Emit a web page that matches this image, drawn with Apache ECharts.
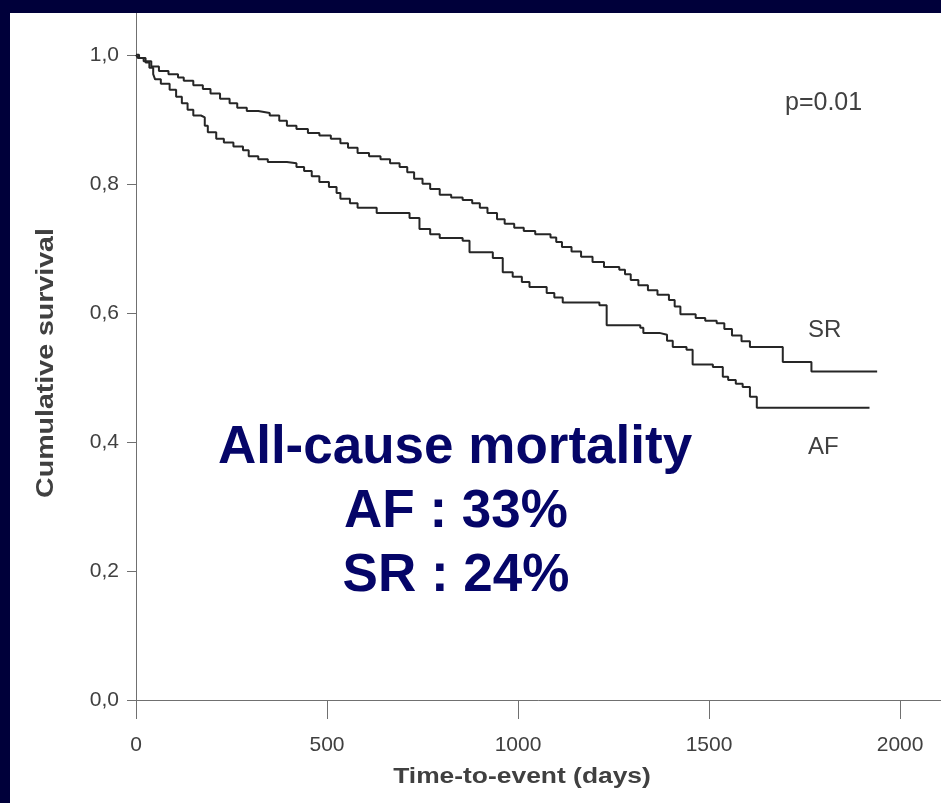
<!DOCTYPE html>
<html>
<head>
<meta charset="utf-8">
<title>Cumulative survival AF vs SR</title>
<script src="https://cdn.jsdelivr.net/npm/echarts@6/dist/echarts.min.js"></script>
<style>
    html, body { margin: 0; padding: 0; background: #fff; }
    #main { width: 941px; height: 803px; }
</style>
</head>
<body>
<div id="main"></div>
<script>
    // Kaplan-Meier steps: [days, survival]
    var srDays = [0, 5, 20, 40, 60, 85, 110, 125, 150, 175, 195, 220, 245, 265, 290, 320, 350, 375, 395, 420,
        450, 480, 510, 535, 555, 580, 610, 640, 665, 690, 710, 728, 750, 770, 795, 825, 855, 880, 900, 920,
        945, 965, 990, 1015, 1045, 1085, 1100, 1115, 1140, 1165, 1195, 1225, 1265, 1280, 1295, 1315, 1340,
        1365, 1395, 1410, 1425, 1465, 1490, 1520, 1540, 1560, 1585, 1607, 1693, 1768, 1940];
    var srSurv = [1.0, 0.995, 0.99, 0.982, 0.975, 0.97, 0.965, 0.96, 0.953, 0.947, 0.94, 0.932, 0.925, 0.918,
        0.913, 0.91, 0.906, 0.898, 0.89, 0.885, 0.879, 0.875, 0.87, 0.863, 0.856, 0.848, 0.843, 0.838, 0.832,
        0.826, 0.818, 0.808, 0.8, 0.792, 0.783, 0.779, 0.775, 0.77, 0.763, 0.755, 0.745, 0.738, 0.732, 0.727,
        0.722, 0.717, 0.71, 0.702, 0.695, 0.687, 0.679, 0.671, 0.667, 0.66, 0.651, 0.643, 0.635, 0.628, 0.62,
        0.61, 0.598, 0.592, 0.588, 0.584, 0.575, 0.565, 0.556, 0.547, 0.524, 0.509, 0.509];

    var afDays = [0, 8, 25, 35, 45, 50, 65, 88, 105, 120, 135, 150, 170, 180, 188, 210, 230, 255, 280, 295,
        320, 345, 395, 420, 440, 460, 480, 505, 525, 535, 560, 580, 630, 716, 742, 770, 795, 855, 873, 934,
        960, 986, 1010, 1030, 1075, 1095, 1117, 1213, 1232, 1320, 1328, 1370, 1390, 1405, 1441, 1457, 1510,
        1536, 1550, 1570, 1588, 1607, 1625, 1920];
    var afSurv = [1.0, 0.995, 0.988, 0.98, 0.97, 0.962, 0.955, 0.946, 0.935, 0.925, 0.915, 0.906, 0.903, 0.89,
        0.88, 0.87, 0.864, 0.858, 0.852, 0.843, 0.838, 0.834, 0.832, 0.826, 0.82, 0.812, 0.803, 0.795, 0.786,
        0.777, 0.77, 0.763, 0.755, 0.747, 0.73, 0.722, 0.716, 0.712, 0.694, 0.685, 0.663, 0.656, 0.648, 0.64,
        0.631, 0.624, 0.616, 0.612, 0.581, 0.577, 0.569, 0.566, 0.557, 0.547, 0.543, 0.52, 0.516, 0.501,
        0.496, 0.49, 0.485, 0.47, 0.453, 0.453];

    var xTicks = [0, 500, 1000, 1500, 2000];
    var yTicks = [0, 0.2, 0.4, 0.6, 0.8, 1.0];

    function pairs(xs, ys) {
        var out = [];
        for (var i = 0; i < xs.length; i++) {
            out.push([xs[i], ys[i]]);
        }
        return out;
    }

    var navy = '#00003a';
    var textNavy = '#050568';
    var grey = '#404040';
    var font = 'Liberation Sans, Arial, sans-serif';

    var myChart = echarts.init(document.getElementById('main'));
    myChart.setOption({
        backgroundColor: '#ffffff',
        animation: false,
        grid: {
            left: 136,
            width: 808,
            top: 0,
            height: 700,
            outerBoundsMode: 'none'
        },
        xAxis: {
            type: 'value',
            min: 0,
            max: 2115,
            interval: 500,
            axisLine: {lineStyle: {color: '#707070', width: 1}},
            axisTick: {length: 19, lineStyle: {color: '#707070'}},
            splitLine: {show: false},
            axisLabel: {
                color: grey,
                fontFamily: font,
                fontSize: 21,
                margin: 35,
                formatter: function (v) {
                    return xTicks.indexOf(v) >= 0 ? String(v) : '';
                }
            }
        },
        yAxis: {
            type: 'value',
            min: 0,
            max: 1.085,
            interval: 0.2,
            axisLine: {show: true, lineStyle: {color: '#707070', width: 1}},
            axisTick: {show: true, length: 9, lineStyle: {color: '#707070'}},
            splitLine: {show: false},
            axisLabel: {
                color: grey,
                fontFamily: font,
                fontSize: 21,
                margin: 17,
                formatter: function (v) {
                    for (var i = 0; i < yTicks.length; i++) {
                        if (Math.abs(v - yTicks[i]) < 1e-6) return v.toFixed(1).replace('.', ',');
                    }
                    return '';
                }
            }
        },
        series: [
            {
                name: 'SR',
                type: 'line',
                step: 'end',
                showSymbol: false,
                lineStyle: {color: '#262626', width: 2},
                data: pairs(srDays, srSurv)
            },
            {
                name: 'AF',
                type: 'line',
                step: 'end',
                showSymbol: false,
                lineStyle: {color: '#262626', width: 2},
                data: pairs(afDays, afSurv)
            }
        ],
        graphic: [
            // dark frame on top and left
            {type: 'rect', z: 100, shape: {x: 0, y: 0, width: 941, height: 13}, style: {fill: navy}},
            {type: 'rect', z: 100, shape: {x: 0, y: 0, width: 10, height: 803}, style: {fill: navy}},
            {
                type: 'text', z: 50, x: 46, y: 363, rotation: Math.PI / 2, scaleX: 1.19,
                style: {
                    text: 'Cumulative survival', fill: grey, font: 'bold 24px ' + font,
                    textAlign: 'center', textVerticalAlign: 'middle'
                }
            },
            {
                type: 'text', z: 50, x: 522, y: 777, scaleX: 1.2,
                style: {
                    text: 'Time-to-event (days)', fill: grey, font: 'bold 22px ' + font,
                    textAlign: 'center', textVerticalAlign: 'middle'
                }
            },
            {
                type: 'text', z: 50, x: 785, y: 103,
                style: {
                    text: 'p=0.01', fill: grey, font: '25px ' + font,
                    textAlign: 'left', textVerticalAlign: 'middle'
                }
            },
            {
                type: 'text', z: 50, x: 808, y: 330,
                style: {
                    text: 'SR', fill: grey, font: '24px ' + font,
                    textAlign: 'left', textVerticalAlign: 'middle'
                }
            },
            {
                type: 'text', z: 50, x: 808, y: 447,
                style: {
                    text: 'AF', fill: grey, font: '24px ' + font,
                    textAlign: 'left', textVerticalAlign: 'middle'
                }
            },
            {
                type: 'text', z: 50, x: 455, y: 475,
                style: {
                    text: 'All-cause mortality', fill: textNavy, font: 'bold 53px ' + font,
                    textAlign: 'center', textVerticalAlign: 'bottom'
                }
            },
            {
                type: 'text', z: 50, x: 456, y: 539,
                style: {
                    text: 'AF : 33%', fill: textNavy, font: 'bold 53px ' + font,
                    textAlign: 'center', textVerticalAlign: 'bottom'
                }
            },
            {
                type: 'text', z: 50, x: 456, y: 603,
                style: {
                    text: 'SR : 24%', fill: textNavy, font: 'bold 53px ' + font,
                    textAlign: 'center', textVerticalAlign: 'bottom'
                }
            }
        ]
    });
</script>
</body>
</html>
